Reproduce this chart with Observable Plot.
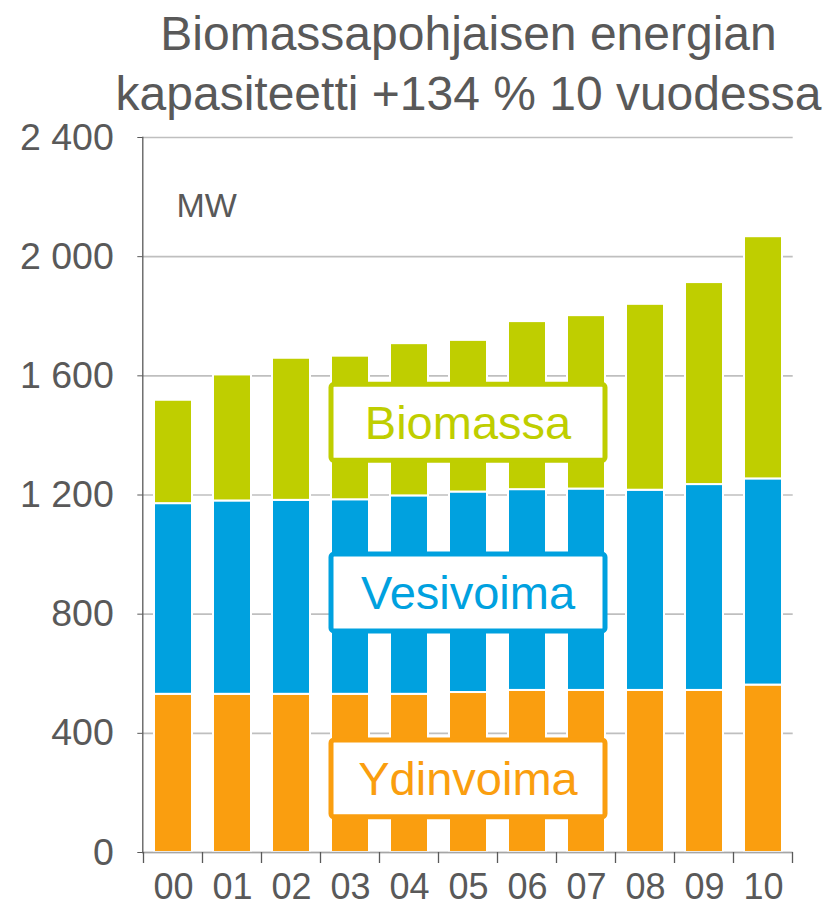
<!DOCTYPE html>
<html>
<head>
<meta charset="utf-8">
<script src="https://cdn.jsdelivr.net/npm/d3@7"></script>
<script src="https://cdn.jsdelivr.net/npm/@observablehq/plot@0.6"></script>
<style>
  html, body { margin: 0; padding: 0; background: #fff; }
  #title { font-family: "Liberation Sans", Arial, sans-serif; font-size: 48px; color: #595959;
           text-align: center; padding-left: 112px; line-height: 60px; height: 120px;
           white-space: nowrap; box-sizing: border-box; padding-top: 4px; }
  #chart svg { display: block; }
</style>
</head>
<body>
<div id="title">Biomassapohjaisen energian<br>kapasiteetti +134 % 10 vuodessa</div>
<div id="chart"></div>
<script>
const years = ["00","01","02","03","04","05","06","07","08","09","10"];
const ydinvoima = [531,531,531,531,531,537,544,544,544,544,562];
const vesivoima = [640,649,651,653,666,673,674,676,672,691,692];
const biomassa  = [347,423,477,482,511,509,564,582,624,678,813];
const seriesNames = ["Ydinvoima","Vesivoima","Biomassa"];
const seriesColors = ["#FA9E0F","#00A1DF","#BFCE00"];
const yTicks = [0,400,800,1200,1600,2000,2400];
const unitLabel = "MW";
const unitY = 2170;

// label boxes (series name, first/last category spanned, top/bottom in MW)
const boxNames = ["Biomassa","Vesivoima","Ydinvoima"];
const boxColors = ["#BFCE00","#00A1DF","#FA9E0F"];
const boxFrom = ["03","03","03"];
const boxTo = ["07","07","07"];
const boxTop = [1570,1000,376];
const boxBottom = [1315,742,118];

const seriesValues = [ydinvoima, vesivoima, biomassa];
const rows = [];
seriesNames.forEach((s, si) => years.forEach((yr, i) => rows.push({year: yr, series: s, value: seriesValues[si][i]})));

const fmt = d => d >= 1000 ? `${Math.floor(d/1000)} ${String(d%1000).padStart(3,"0")}` : String(d);
const FONT = '"Liberation Sans", Arial, sans-serif';

const plot = Plot.plot({
  width: 825,
  height: 789,
  marginTop: 17,
  marginBottom: 57,
  marginLeft: 142.3,
  marginRight: 32.3,
  style: {fontFamily: FONT, color: "#595959", background: "white", overflow: "visible"},
  x: {domain: years, paddingInner: 0.357, paddingOuter: 0.1785, label: null},
  y: {domain: [0, 2400], label: null},
  color: {domain: seriesNames, range: seriesColors},
  marks: [
    Plot.gridY(yTicks, {stroke: "#bfbfbf", strokeOpacity: 1, strokeWidth: 1.6}),
    Plot.barY(rows, {x: "year", y: "value", fill: "series", order: seriesNames,
                     stroke: "white", strokeWidth: 2, inset: 0}),
    Plot.ruleY([0], {stroke: "#a6a6a6", strokeWidth: 1.6}),
    Plot.frame({anchor: "left", stroke: "#595959", strokeWidth: 1.3}),
    Plot.axisY({ticks: yTicks, tickSize: 5, tickPadding: 24, fontSize: 37.5, tickFormat: fmt,
                stroke: "#595959", fill: "#595959"}),
    Plot.axisX({tickSize: 0, tickPadding: 21, fontSize: 36, fill: "#595959"}),
    Plot.text([unitLabel], {x: () => years[0], y: () => unitY, text: d => d, textAnchor: "start",
                            dx: 3, fontSize: 34, fill: "#595959"})
  ]
});
document.getElementById("chart").appendChild(plot);

// category-boundary ticks and label boxes through the plot's own scales
const sx = plot.scale("x"), sy = plot.scale("y");
const bw = sx.bandwidth;
const step = sx.step ?? (sx.apply(years[1]) - sx.apply(years[0]));
const gap = step - bw;
const svg = d3.select(plot);
const y0 = sy.apply(0);
const bounds = years.map(c => sx.apply(c) - gap / 2);
bounds.push(sx.apply(years[years.length - 1]) + bw + gap / 2);
svg.append("g").selectAll("line").data(bounds).join("line")
  .attr("x1", d => d).attr("x2", d => d).attr("y1", y0).attr("y2", y0 + 11)
  .attr("stroke", "#595959").attr("stroke-width", 1.3);

const g = svg.append("g");
boxNames.forEach((name, i) => {
  const x1 = sx.apply(boxFrom[i]), x2 = sx.apply(boxTo[i]) + bw;
  const yt = sy.apply(boxTop[i]), yb = sy.apply(boxBottom[i]);
  g.append("rect").attr("x", x1).attr("y", yt).attr("width", x2 - x1).attr("height", yb - yt)
    .attr("rx", 3).attr("fill", "white").attr("stroke", boxColors[i]).attr("stroke-width", 5);
  g.append("text").attr("x", (x1 + x2) / 2).attr("y", (yt + yb) / 2 + 0.358 * 47)
    .attr("text-anchor", "middle").attr("font-family", FONT).attr("font-size", 47)
    .attr("fill", boxColors[i]).text(name);
});
</script>
</body>
</html>
